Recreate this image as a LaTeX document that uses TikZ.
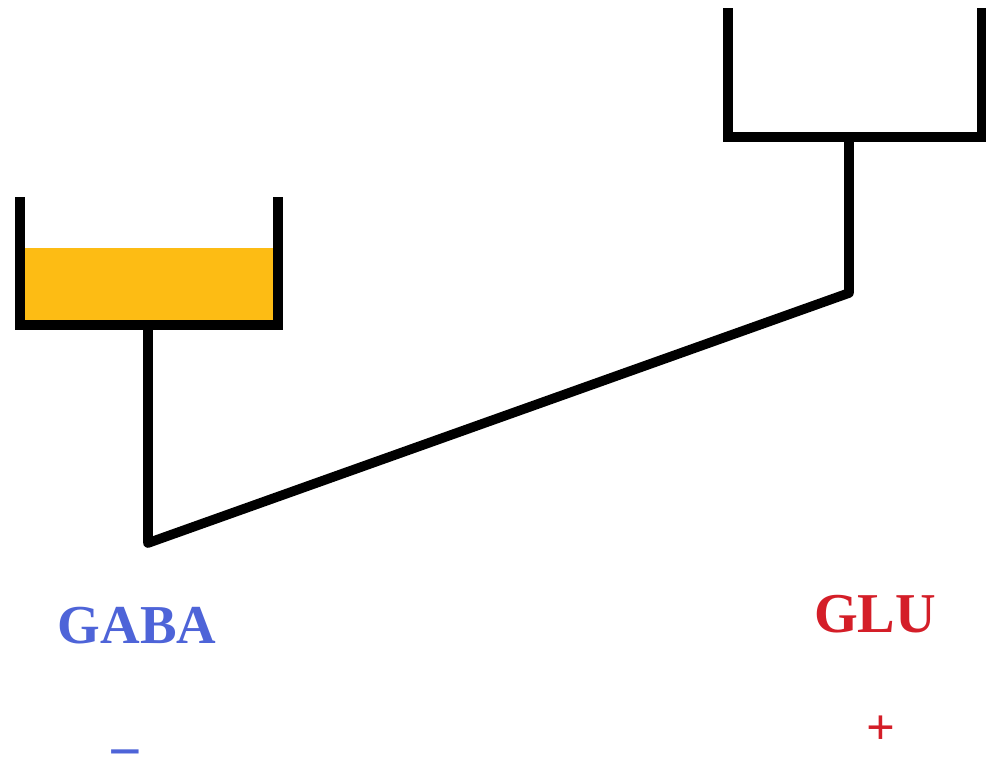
\documentclass[tikz,border=0pt]{standalone}
\usepackage{fontspec}
\setmainfont{Liberation Serif}
\usepackage{tikz}

\definecolor{gabablue}{RGB}{78,100,216}
\definecolor{glured}{RGB}{212,30,40}
\definecolor{fluid}{RGB}{253,188,20}

\begin{document}
\begin{tikzpicture}[
  x=0.025cm, y=-0.025cm,
  wall/.style={draw, line width=0.25cm, line join=miter},
  wire/.style={draw, line width=0.24cm, line join=round},
  gaba/.style={text=gabablue, inner sep=0pt, font=\fontsize{39}{46}\selectfont\bfseries},
  glu/.style={text=glured, inner sep=0pt, font=\fontsize{40}{48}\selectfont\bfseries},
  sign/.style={inner sep=0pt, anchor=base, font=\fontsize{36}{42}\selectfont\bfseries}]
    \useasboundingbox (0,0) rectangle (986,759);
%   left cup with its fluid
    \fill[fluid] (25,248) rectangle (274,321);
    \path[wall] (20,197) -- (20,325) -- (278,325) -- (278,197);
%   right cup
    \path[wall] (728,8) -- (728,137) -- (982,137) -- (982,8);
    \coordinate (lcup) at (148,325);
    \coordinate (lknee) at (148,543);
    \coordinate (rknee) at (849,293);
    \coordinate (rcup) at (849,137);
    \path[wire] (lcup) -- (lknee) -- (rknee) -- (rcup);
    \node[gaba] (gabalabel) at (137,626) {GABA};
    \node[glu] (glulabel) at (875,614) {GLU};
    \node[sign, text=glured] (plus) at (881,744) {+};
    \node[sign, text=gabablue, font=\fontsize{42}{48}\selectfont\bfseries] (minus) at (125,757)
      {\raisebox{-0.24em}[0.06em][0pt]{−}};
\end{tikzpicture}
\end{document}
